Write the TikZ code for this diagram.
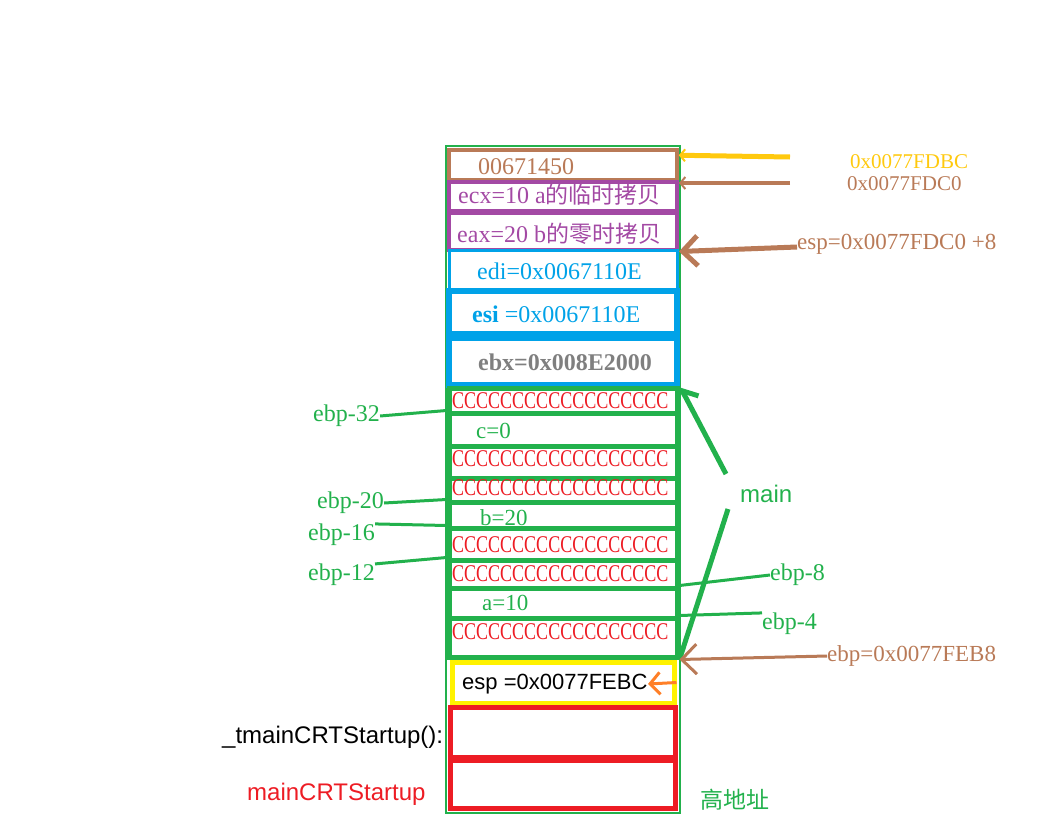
\documentclass[tikz,border=0pt]{standalone}
\usepackage{fontspec}
\setmainfont{Liberation Serif}
\setsansfont{Liberation Sans}
\newfontfamily\cjk{Noto Sans CJK SC}
\newfontfamily\ccfont[FakeStretch=0.75]{Liberation Serif}
\usetikzlibrary{positioning,arrows.meta,fit,backgrounds}

\definecolor{pbrown}{HTML}{B97A57}
\definecolor{ppurple}{HTML}{A349A4}
\definecolor{pblue}{HTML}{00A2E8}
\definecolor{pgreen}{HTML}{22B14C}
\definecolor{pred}{HTML}{ED1C24}
\definecolor{pyellow}{HTML}{FFF200}
\definecolor{porange}{HTML}{FF7F27}
\definecolor{pgold}{HTML}{FFC90E}
\definecolor{pgray}{HTML}{7F7F7F}

\newcommand\pxfont[1]{\fontsize{#1}{#1}\selectfont}
\newcommand\cccc{CCCCCCCCCCCCCCCCCC}

\begin{document}
\begin{tikzpicture}[
    x=1pt, y=-1pt,
    cell/.style={
        draw=#1,
        line width=4pt,
        minimum width=228pt,
        inner sep=0pt
    },
    txt/.style={
        anchor=west,
        inner sep=0pt,
        text=#1,
        font=\pxfont{23}
    },
    ctxt/.style={anchor=west, inner sep=0pt, text=pred, font=\ccfont\pxfont{24}},
    greenline/.style={draw=pgreen, line width=#1},
    goldarrow/.style={draw=pgold, line width=5pt, -{Straight Barb[length=5pt,width=12pt,line width=2pt]}},
    brownarrow/.style={draw=pbrown, line width=#1, -{Straight Barb[length=15pt,width=30pt]}}
]
\useasboundingbox (0,0) rectangle (1061,830);

% saved registers
\node[cell=pbrown, line width=3.5pt, minimum height=30pt] (r1) at (563,165) {};
\node[cell=ppurple, minimum height=29pt] (r2) at (563,196.5) {};
\node[cell=ppurple, minimum height=37pt] (r3) at (563,231) {};
\node[cell=pblue, line width=3pt, minimum height=40pt] (r4) at (563,270) {};
\node[cell=pblue, line width=6pt, minimum height=43pt] (r5) at (563,312.5) {};
\node[cell=pblue, line width=6pt, minimum height=47pt] (r6) at (563,361.5) {};

% main frame
\node[cell=pgreen, line width=5pt, minimum height=25pt] (g1) at (563,400.5) {};
\node[cell=pgreen, line width=5pt, minimum height=33pt] (g2) at (563,429.5) {};
\node[cell=pgreen, line width=5pt, minimum height=32pt] (g3) at (563,462) {};
\node[cell=pgreen, line width=5pt, minimum height=24pt] (g4) at (563,490) {};
\node[cell=pgreen, line width=5pt, minimum height=26pt] (g5) at (563,515) {};
\node[cell=pgreen, line width=5pt, minimum height=32pt] (g6) at (563,544) {};
\node[cell=pgreen, line width=5pt, minimum height=28pt] (g7) at (563,574) {};
\node[cell=pgreen, line width=5pt, minimum height=30pt] (g8) at (563,603) {};
\node[cell=pgreen, line width=5pt, minimum height=39pt] (g9) at (563,637.5) {};

% return address + startup frames
\node[cell=pyellow, line width=5pt, minimum width=222pt, minimum height=41pt] (y1) at (563,682.5) {};
\node[cell=pred, line width=5pt, minimum width=225pt, minimum height=50pt] (rd1) at (563,732) {};
\node[cell=pred, line width=5pt, minimum width=225pt, minimum height=48pt] (rd2) at (563,784) {};

\node[txt=pbrown, font=\pxfont{24}] (t1) at (478,167) {00671450};
\node[txt=ppurple, font=\pxfont{24}] (t2) at (458,195) {ecx=10 a{\cjk\pxfont{23}的临时拷贝}};
\node[txt=ppurple, font=\pxfont{24}] (t3) at (457,234) {eax=20 b{\cjk\pxfont{23}的零时拷贝}};
\node[txt=pblue, font=\pxfont{24}] (t4) at (477,271) {edi=0x0067110E};
\node[txt=pblue, font=\pxfont{24}] (t5) at (472,314) {{\bfseries esi} =0x0067110E};
\node[txt=pgray, font=\bfseries\pxfont{24}] (t6) at (478,362) {ebx=0x008E2000};

\node[ctxt] (c1) at (452,401) {\cccc};
\node[txt=pgreen] (tc) at (476,431) {c=0};
\node[ctxt] (c2) at (452,459) {\cccc};
\node[ctxt] (c3) at (452,488) {\cccc};
\node[txt=pgreen] (tb) at (480,518) {b=20};
\node[ctxt] (c4) at (452,545) {\cccc};
\node[ctxt] (c5) at (452,574) {\cccc};
\node[txt=pgreen] (ta) at (482,603) {a=10};
\node[ctxt] (c6) at (452,632) {\cccc};
\node[txt=black, font=\sffamily\pxfont{22}] (tesp) at (462,684) {esp =0x0077FEBC};

% right side
\node[txt=pgold, font=\pxfont{21}] (lfdbc) at (850,162) {0x0077FDBC};
\node[txt=pbrown, font=\pxfont{21}] (lfdc0) at (847,184) {0x0077FDC0};
\node[txt=pbrown] (lesp8) at (797,244) {esp=0x0077FDC0 +8};
\node[txt=pgreen, font=\sffamily\pxfont{24}] (lmain) at (740,494) {main};
\node[txt=pgreen, font=\pxfont{24}] (l8) at (770,575) {ebp-8};
\node[txt=pgreen, font=\pxfont{24}] (l4) at (762,624) {ebp-4};
\node[txt=pbrown] (lebp) at (827,656) {ebp=0x0077FEB8};

% left side
\node[txt=pgreen, font=\pxfont{24}] (l32) at (313,416) {ebp-32};
\node[txt=pgreen, font=\pxfont{24}] (l20) at (317,503) {ebp-20};
\node[txt=pgreen, font=\pxfont{24}] (l16) at (308,535) {ebp-16};
\node[txt=pgreen, font=\pxfont{24}] (l12) at (308,575) {ebp-12};
\node[txt=black, font=\sffamily\pxfont{24}] (ltmain) at (222,737) {\_tmainCRTStartup():};
\node[txt=pred, font=\sffamily\pxfont{24}] (lcrt) at (247,794) {mainCRTStartup};
\node[txt=pgreen, font=\cjk\pxfont{23}] (lhigh) at (700,800) {高地址};

\coordinate (goldtail) at (790,157);
\coordinate (browntail) at (790,183);
\coordinate (mainup) at (726,474);
\coordinate (maindown) at (728,509);
\coordinate (otip) at (648,684);

\draw[goldarrow] (goldtail) -- ([yshift=-7pt]r1.north east);
\draw[draw=pbrown, line width=4pt, -{Straight Barb[length=5pt,width=12pt,line width=2pt]}] (browntail) -- ([yshift=-3pt]r2.north east);
\draw[brownarrow=5pt] ([yshift=-3pt]lesp8.west) -- (r3.south east);

\draw[greenline=5pt, -{Straight Barb[harpoon,swap,length=12pt,width=24pt]}] (mainup) -- (g1.north east);
\draw[greenline=5pt] (maindown) -- (g9.south east);
\draw[greenline=3pt] (l8.west) -- (g8.north east);
\draw[greenline=3pt] (l4.north west) -- (g9.north east);
\draw[brownarrow=3pt] (lebp.west) -- (g9.south east);

\draw[greenline=3pt] (l32.east) -- (g2.north west);
\draw[greenline=3pt] (l20.east) -- (g5.north west);
\draw[greenline=3pt] (l16.north east) -- (g6.north west);
\draw[greenline=3pt] (l12.north east) -- (g7.north west);

\draw[draw=porange, line width=3pt, -{Straight Barb[length=10pt,width=22pt]}] (y1.east) -- (otip);

\begin{scope}[on background layer]
\node[draw=pgreen, line width=2pt, inner xsep=1pt, inner ysep=2pt, fit=(r1)(rd2)] (stack) {};
\end{scope}

\end{tikzpicture}
\end{document}
